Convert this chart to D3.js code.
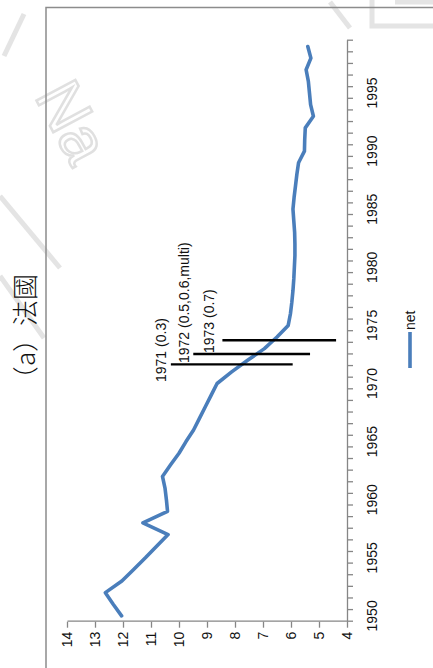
<!DOCTYPE html>
<html>
<head>
<meta charset="utf-8">
<script src="https://cdn.jsdelivr.net/npm/d3@7/dist/d3.min.js"></script>
<style>
  html, body { margin: 0; padding: 0; background: #ffffff; }
  svg { display: block; }
</style>
</head>
<body>
<svg id="chart" width="433" height="668"></svg>
<script>
// Net values per year (France)
const years = [
  1950, 1951, 1952, 1953, 1954, 1955, 1956, 1957, 1958, 1959,
  1960, 1961, 1962, 1963, 1964, 1965, 1966, 1967, 1968, 1969,
  1970, 1971, 1972, 1973, 1974, 1975, 1976, 1977, 1978, 1979,
  1980, 1981, 1982, 1983, 1984, 1985, 1986, 1987, 1988, 1989,
  1990, 1991, 1992, 1993, 1994, 1995, 1996, 1997, 1998, 1999
];
const netValues = [
  12.05, 12.35, 12.63, 12.04, 11.62, 11.20, 10.80, 10.39, 11.29, 10.41,
  10.45, 10.50, 10.59, 10.30, 10.00, 9.75, 9.48, 9.27, 9.06, 8.85,
  8.64, 8.12, 7.55, 6.95, 6.50, 6.10, 6.02, 5.97, 5.93, 5.90,
  5.88, 5.86, 5.86, 5.87, 5.90, 5.93, 5.89, 5.84, 5.79, 5.73,
  5.52, 5.51, 5.49, 5.20, 5.30, 5.34, 5.38, 5.46, 5.29, 5.40
];

// Axis ticks
const valueTicks = [4, 5, 6, 7, 8, 9, 10, 11, 12, 13, 14];
const yearLabels = [1950, 1955, 1960, 1965, 1970, 1975, 1980, 1985, 1990, 1995];

// Event markers: position (year), extent (value), label and label anchor (year, value)
const eventNames  = ["1971 (0.3)", "1972 (0.5,0.6,multi)", "1973 (0.7)"];
const eventPos    = [1971.65, 1972.54, 1973.72];
const eventTop    = [10.29, 9.49, 8.45];
const eventBottom = [5.94, 5.32, 4.39];
const eventLabelYear  = [1970.13, 1971.76, 1972.62];
const eventLabelValue = [10.45, 9.65, 8.75];

const seriesName = "net";
const titleText = "（a）法國";

const svg = d3.select("#chart");

// Faint background watermark
const wm = svg.append("g").attr("fill", "none").attr("stroke", "#e4e4e4").attr("stroke-width", 5);
wm.append("path").attr("d", "M4,56 L24,14");
wm.append("path").attr("d", "M0,196 L60,268");
wm.append("path").attr("d", "M0,276 L44,338");
wm.append("path").attr("d", "M330,2 L350,28 M372,0 L372,26 L433,26 M395,2 L433,2");
svg.append("text")
  .attr("transform", "translate(34,96) rotate(62)")
  .attr("font-family", "'Liberation Sans', sans-serif")
  .attr("font-size", 64)
  .attr("fill", "none")
  .attr("stroke", "#e0e0e0")
  .attr("stroke-width", 2.5)
  .text("Na");

// Chart is laid out landscape (668 x 433) and turned a quarter turn counter-clockwise
const W = 668;
const g = svg.append("g").attr("transform", `translate(0,${W}) rotate(-90)`);

const font = "'Liberation Sans', Arial, sans-serif";

// Outer frame
g.append("rect")
  .attr("x", -40).attr("y", 46)
  .attr("width", 700.5).attr("height", 420)
  .attr("fill", "none")
  .attr("stroke", "#8c8c8c")
  .attr("stroke-width", 1.5);

// Scales
const x = d3.scaleLinear().domain([1949.5, 1999.5]).range([46.3, 627.3]);
const y = d3.scaleLinear().domain([4, 14]).range([347, 67]);

// Year axis: tick marks between categories
const yearBounds = d3.range(1949.5, 2000, 1);
const xAxis = g.append("g")
  .attr("transform", `translate(0,${y(4)})`)
  .call(d3.axisBottom(x).tickValues(yearBounds).tickSize(6).tickSizeOuter(0).tickFormat(""));
xAxis.selectAll("path, line").attr("stroke", "#868686").attr("stroke-width", 1.3);

g.append("g").selectAll("text")
  .data(yearLabels)
  .join("text")
  .attr("x", d => x(d))
  .attr("y", y(4) + 30)
  .attr("text-anchor", "middle")
  .attr("font-family", font)
  .attr("font-size", 14)
  .attr("fill", "#111")
  .text(d => d);

// Value axis
const yAxis = g.append("g")
  .attr("transform", `translate(${x(1949.5)},0)`)
  .call(d3.axisLeft(y).tickValues(valueTicks).tickSize(6).tickSizeOuter(0).tickPadding(4));
yAxis.selectAll("path, line").attr("stroke", "#868686").attr("stroke-width", 1.3);
yAxis.selectAll("text")
  .attr("font-family", font)
  .attr("font-size", 14)
  .attr("fill", "#111");

// Series line
const points = years.map((yr, i) => ({ year: yr, value: netValues[i] }));
g.append("path")
  .datum(points)
  .attr("fill", "none")
  .attr("stroke", "#4a7ebb")
  .attr("stroke-width", 3.6)
  .attr("stroke-linejoin", "round")
  .attr("stroke-linecap", "round")
  .attr("d", d3.line().x(d => x(d.year)).y(d => y(d.value)));

// Event markers
const events = eventNames.map((name, i) => ({
  name, pos: eventPos[i], top: eventTop[i], bottom: eventBottom[i],
  ly: eventLabelYear[i], lv: eventLabelValue[i]
}));
g.append("g").selectAll("line")
  .data(events)
  .join("line")
  .attr("x1", d => x(d.pos)).attr("x2", d => x(d.pos))
  .attr("y1", d => y(d.top)).attr("y2", d => y(d.bottom))
  .attr("stroke", "#000")
  .attr("stroke-width", 2.3);
g.append("g").selectAll("text")
  .data(events)
  .join("text")
  .attr("x", d => x(d.ly))
  .attr("y", d => y(d.lv))
  .attr("font-family", font)
  .attr("font-size", 14)
  .attr("fill", "#111")
  .text(d => d.name);

// Legend
const legend = g.append("g").attr("transform", "translate(300,410)");
legend.append("line")
  .attr("x1", 0).attr("x2", 36)
  .attr("stroke", "#4a7ebb").attr("stroke-width", 3.6);
legend.append("text")
  .attr("x", 38).attr("y", 5)
  .attr("font-family", font)
  .attr("font-size", 14)
  .attr("fill", "#111")
  .text(seriesName);

// Title
g.append("text")
  .attr("x", 335).attr("y", 35)
  .attr("text-anchor", "middle")
  .attr("font-family", "'Noto Sans CJK TC', 'Noto Sans CJK SC', sans-serif")
  .attr("font-size", 26)
  .attr("font-weight", 300)
  .attr("fill", "#111")
  .text(titleText);
</script>
</body>
</html>
